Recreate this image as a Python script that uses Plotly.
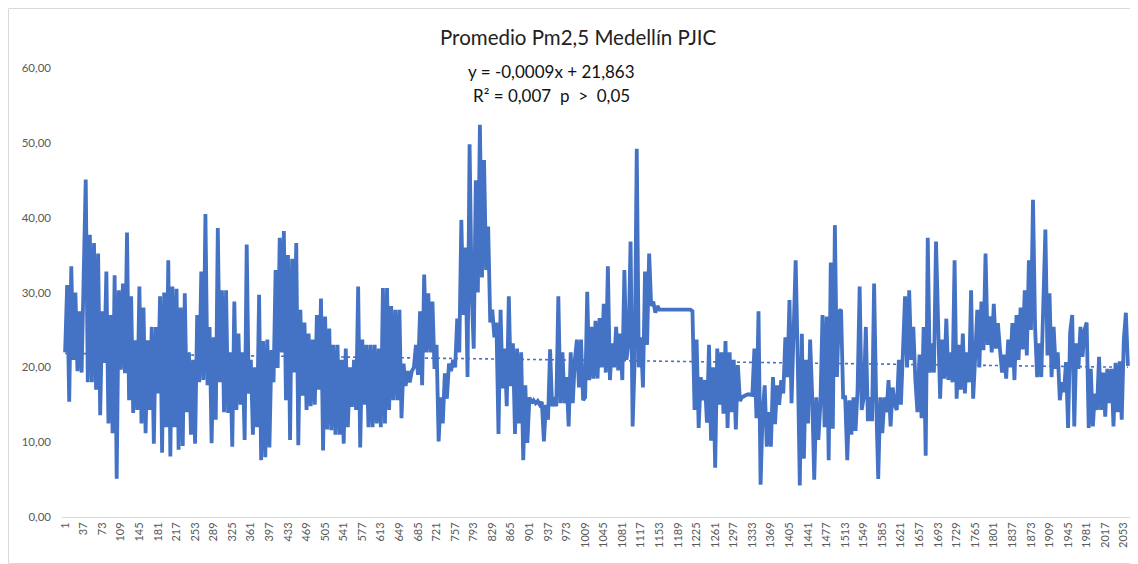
import plotly.graph_objects as go

# ---- Data (daily PM2.5, read every 4 days along the band) ----
sample_step = 4
seg0 = [22, 31, 15.4, 33.5, 21, 30, 19.5, 27.5, 19.3, 31, 45.1, 18, 37.7, 18, 36.6, 17, 35.2, 13.6, 27.5, 20.6,
        32.8, 12.5, 27, 11.2, 32.3, 5.1, 30.3, 19.7, 31.2, 19.2, 38, 15.6, 29.5, 13.9, 23.6, 14.3, 30.8, 12.5, 28, 11.2,
        23.6, 14.3, 25.4, 9.8, 25.4, 16.5, 29.5]
seg1 = [8.6, 30, 12, 34.3, 8.1, 30.8, 12, 30.5, 9, 28, 9.5, 29.9, 14, 22, 11, 21, 9.8, 27, 18, 32.8,
        18.3, 40.5, 17.6, 25.4, 9.85, 24, 13, 38.6, 18, 30.3, 14, 30.3, 13.9, 22, 9.4, 28.8, 14.3, 24.5, 15, 22,
        10.3, 36.4, 16.5, 21, 11, 20, 12, 29.7, 7.6, 23.5]
seg2 = [8, 23.7, 9.3, 22.3, 18, 33, 19.9, 37.3, 22, 38.2, 15.6, 35, 10.3, 34.5, 19.3, 36.6, 9.6, 27.7, 16.2, 26,
        14.3, 24.5, 14.8, 23.7, 15, 27, 17, 29.2, 8.9, 26.8, 11.7, 25.2, 11.6, 23, 11, 23, 11, 21, 9.8, 22.5,
        12, 20, 14.7, 21, 14.3, 30.8, 9.3, 23.7, 15, 23, 12]
seg3 = [23, 12, 23, 12.5, 22.5, 12, 30.6, 12.5, 30.6, 14.3, 28.2, 15.6, 27.7, 15.6, 27.7, 13.2, 20.5, 17.5, 19.5, 18,
        19.5, 20, 23, 19, 27.5, 17.6, 32.4, 22, 29.9, 22, 28.8, 19.8, 23, 10.1, 16, 12.5, 19.2, 15.8, 20.5, 19.5,
        21, 20, 26.5, 22, 39.7, 27, 36, 18.7, 49.8, 30]
seg4 = [22.5, 45, 30, 52.4, 32, 47.7, 33, 38.8, 26, 27.7, 24, 26, 11.1, 27.7, 17.2, 22.5, 14.8, 29.5, 17.5, 23.2,
        11.1, 22.5, 12.5, 22, 7.6, 17.6, 9.9, 16, 15.2, 15.6, 15.2, 15.5, 15, 15.4, 10.1, 15, 13, 22.4, 14.8, 16,
        14.8, 29.5, 15.2, 22, 15.2, 18.7, 12.1, 22, 15.2, 21, 23.7]
seg5 = [17.3, 23.7, 15.6, 16, 30.1, 18.3, 25.4, 18.5, 26.2, 18.5, 26.6, 20, 28.5, 19.3, 33.5, 18.3, 23.2, 20, 25.4, 19.6,
        24.5, 18.3, 33, 21, 23.2, 36.8, 12.1, 21, 49.2, 20, 24, 17.3, 32.8, 23, 35.2, 28.2, 28.8, 27.3, 28.2,
        27.7, 27.7, 27.7, 27.7, 27.7, 27.7, 27.7, 27.7, 27.7, 27.7, 27.7, 27.7, 27.7, 27.7, 27.7, 27.7]
seg6 = [27.5, 14.3, 23.7, 11.9, 18.7, 15.6, 18.3, 12.6, 23, 10.2, 20, 6.6, 22.5, 15, 22, 13.8, 23.5, 11.9, 22, 14,
        21, 11.7, 20.3, 15.5, 16, 16.2, 16.3, 16.4, 16.3, 16.3, 22.5, 13.2, 27.5, 4.3, 14, 17.6, 9.4, 14, 9.4, 18.7,
        12.4, 17.6, 15, 18.3, 16.5, 24, 18.7]
seg7 = [29, 15.2, 27.2, 34.3, 21, 4.2, 24.5, 7.8, 21, 12.5, 23.7, 16.2, 5, 16, 10.3, 15.2, 27, 12, 26.8, 7.6,
        34, 11.8, 39, 18.7, 27.5, 27.7, 16, 16, 7.6, 15.6, 11, 16, 11.5, 17, 30.8, 14.3, 16, 25.4, 12.8, 16,
        12.8, 31.2, 15.6, 5.1, 16, 11.2, 16, 14, 18.3, 12.1, 17.3, 15]
seg8 = [14.3, 21, 15, 23.4, 29.5, 20, 30.3, 21, 25.4, 18.3, 14, 21.7, 13.2, 25.4, 8.2, 37.3, 19.3, 23.2, 19.3, 36.8,
        23.7, 15.8, 23.7, 18.5, 26.5, 18.3, 22, 18, 34.3, 15.8, 23, 17, 24.5, 16.5, 22, 18, 30.3, 15.8, 21.4, 27.7,
        20, 28.8, 22.3, 35.2, 23, 26.8, 22, 28.5, 22.5, 25.9]
seg9 = [22.4, 19.3, 21.7, 18.5, 23.7, 20, 25.9, 18.3, 27, 21, 28, 22.4, 30.3, 21.6, 34.3, 25, 42.4, 25.4, 18.7, 23.2,
        18.7, 30.3, 38.4, 21.6, 29.9, 18.7, 25.4, 19.8, 22, 15.6, 18, 16.7, 20.7, 11.9, 24.7, 27, 12.1, 23.2, 19.8, 25.4,
        21.4, 25, 26, 11.9, 19.8, 12.1, 16.5, 14.3, 21.4, 14.3, 19.3, 13.4, 19.8, 15.2, 19.8, 12.1, 20.6, 14, 20.8, 13,
        23.7, 27.3, 20.2]

pm25 = seg0 + seg1 + seg2 + seg3 + seg4 + seg5 + seg6 + seg7 + seg8 + seg9
days = list(range(1, 1 + sample_step * len(pm25), sample_step))

tick_labels = [1, 37, 73, 109, 145, 181, 217, 253, 289, 325, 361, 397, 433, 469, 505, 541, 577, 613, 649, 685,
               721, 757, 793, 829, 865, 901, 937, 973, 1009, 1045, 1081, 1117, 1153, 1189, 1225, 1261, 1297, 1333,
               1369, 1405, 1441, 1477, 1513, 1549, 1585, 1621, 1657, 1693, 1729, 1765, 1801, 1837, 1873, 1909,
               1945, 1981, 2017, 2053]

trend_slope = -0.0009
trend_intercept = 21.863

title_text = "Promedio Pm2,5 Medellín PJIC"
eq_line1 = "y = -0,0009x + 21,863"
eq_line2 = "R² = 0,007  p  &gt;  0,05"

BLUE = "#4472C4"
GRAY = "#595959"
FONT = "Lato"

fig = go.Figure()
fig.add_trace(go.Scatter(x=days, y=pm25, mode="lines",
                         line=dict(color=BLUE, width=3.8), showlegend=False, hoverinfo="x+y"))
trend_x = [days[0], days[-1]]
trend_y = [trend_intercept + trend_slope * d for d in trend_x]
fig.add_trace(go.Scatter(x=trend_x, y=trend_y, mode="lines",
                         line=dict(color=BLUE, width=1.6, dash="dot"), showlegend=False, hoverinfo="skip"))

# page body adds an 8px offset, so the figure is 8px smaller and positions are shifted
OFF = 8
W, H = 1138 - OFF, 564 - OFF
L, R, T, B = 62 - OFF, 8, 68 - OFF, 47
pw, ph = W - L - R, H - T - B

def px(x):
    return (x - OFF - L) / pw

def py(y):
    return (H - B - (y - OFF)) / ph

fig.update_layout(
    width=W, height=H,
    margin=dict(l=L, r=R, t=T, b=B, pad=0),
    paper_bgcolor="white", plot_bgcolor="white",
    separators=",.",
    font=dict(family=FONT, color=GRAY),
    xaxis=dict(range=[-5, 2065], tickmode="array", tickvals=tick_labels,
               ticktext=[str(t) for t in tick_labels], tickangle=-90,
               tickfont=dict(size=11, color=GRAY, family=FONT), showgrid=False, zeroline=False,
               showline=True, linecolor="#d9d9d9", linewidth=1, ticks=""),
    yaxis=dict(range=[0, 60], dtick=10, tickformat=".2f", tickfont=dict(size=11.5, color=GRAY, family=FONT),
               showgrid=False, zeroline=False, showline=False, ticks="", ticklabelstandoff=10),
    annotations=[
        dict(text=title_text, xref="paper", yref="paper", x=px(578), y=py(37), xanchor="center",
             yanchor="middle", showarrow=False, font=dict(size=20.5, color="#222222", family=FONT)),
        dict(text=eq_line1, xref="paper", yref="paper", x=px(551), y=py(71), xanchor="center",
             yanchor="middle", showarrow=False, font=dict(size=17, color="#111111", family=FONT)),
        dict(text=eq_line2, xref="paper", yref="paper", x=px(551), y=py(95), xanchor="center",
             yanchor="middle", showarrow=False, font=dict(size=17, color="#111111", family=FONT)),
    ],
    shapes=[dict(type="rect", xref="paper", yref="paper", x0=px(8.5), x1=px(1135), y0=py(563.5), y1=py(8.5),
                 line=dict(color="#d9d9d9", width=1), fillcolor="rgba(0,0,0,0)", layer="below")],
)

fig.write_html("out.html")
